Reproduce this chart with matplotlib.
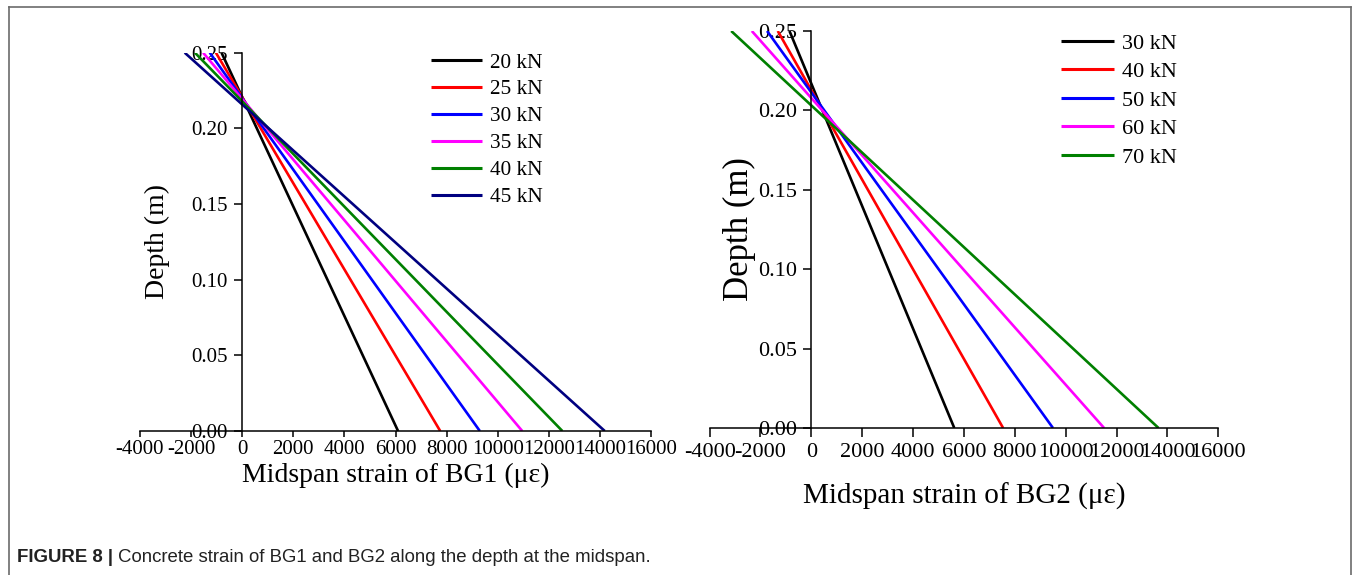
import matplotlib
matplotlib.use("Agg")
import matplotlib.pyplot as plt
from matplotlib.lines import Line2D

plt.rcParams["font.family"] = ["Liberation Serif", "DejaVu Serif"]

# Depth positions (m): bottom and top fibre of the section
depth = [0.0, 0.25]

# BG1 midspan strain (με) at depth 0 and 0.25 m
bg1_loads = ["20 kN", "25 kN", "30 kN", "35 kN", "40 kN", "45 kN"]
bg1_bottom = [6100, 7750, 9300, 10960, 12530, 14190]
bg1_top = [-810, -1030, -1270, -1530, -1850, -2250]
bg1_colors = ["#000000", "#ff0000", "#0000ff", "#ff00ff", "#008000", "#000080"]

# BG2 midspan strain (με) at depth 0 and 0.25 m
bg2_loads = ["30 kN", "40 kN", "50 kN", "60 kN", "70 kN"]
bg2_bottom = [5620, 7540, 9500, 11510, 13650]
bg2_top = [-860, -1320, -1740, -2340, -3150]
bg2_colors = ["#000000", "#ff0000", "#0000ff", "#ff00ff", "#008000"]

x_ticks = [-4000, -2000, 0, 2000, 4000, 6000, 8000, 10000, 12000, 14000, 16000]
y_ticks = [0.00, 0.05, 0.10, 0.15, 0.20, 0.25]

W, H = 1356, 575
fig = plt.figure(figsize=(W / 100, H / 100), dpi=100)


def px_rect(x0, x1, ytop, ybot):
    return [x0 / W, 1 - ybot / H, (x1 - x0) / W, (ybot - ytop) / H]


def panel(rect, loads, bottom, top, colors, xlabel, tick_fs, xlab_fs, ylab_fs,
          xlab_y, ylab_x, leg_fs, leg_anchor, leg_spacing, xtick_len, xtick_pad):
    ax = fig.add_axes(rect)
    for lab, b, t, c in zip(loads, bottom, top, colors):
        ax.plot([b, t], depth, color=c, lw=1.9, label=lab, solid_capstyle="butt")
    ax.set_xlim(-4000, 16000)
    ax.set_ylim(0, 0.25)
    ax.spines["top"].set_visible(False)
    ax.spines["right"].set_visible(False)
    ax.spines["left"].set_position(("data", 0))
    for s in ("left", "bottom"):
        ax.spines[s].set_linewidth(1.1)
    ax.set_xticks(x_ticks)
    ax.set_xticklabels([str(v) for v in x_ticks])
    ax.set_yticks(y_ticks)
    ax.set_yticklabels([f"{v:.2f}" for v in y_ticks])
    ax.tick_params(direction="out", width=1.1, labelsize=tick_fs)
    ax.tick_params(axis="y", length=5.8, pad=4.5)
    ax.tick_params(axis="x", length=xtick_len, pad=xtick_pad)
    ax.set_xlabel(xlabel, fontsize=xlab_fs)
    ax.xaxis.set_label_coords(0.5, xlab_y)
    ax.set_ylabel("Depth (m)", fontsize=ylab_fs)
    ax.yaxis.set_label_coords(ylab_x, 0.5)
    ax.legend(loc="upper left", bbox_to_anchor=leg_anchor, frameon=False,
              fontsize=leg_fs, handlelength=2.4, handletextpad=0.35,
              labelspacing=leg_spacing, borderaxespad=0, borderpad=0)
    for ln in ax.get_legend().get_lines():
        ln.set_linewidth(2.2)
    return ax


panel(px_rect(140, 651, 52.7, 431), bg1_loads, bg1_bottom, bg1_top, bg1_colors,
      "Midspan strain of BG1 (\u03bc\u03b5)", 15, 20, 20, -0.084, 0.059,
      15.3, (0.57, 1.0), 0.33, 4.5, 2)

panel(px_rect(709.6, 1218.3, 31, 428), bg2_loads, bg2_bottom, bg2_top, bg2_colors,
      "Midspan strain of BG2 (\u03bc\u03b5)", 16, 21, 25, -0.138, 0.092,
      16, (0.69, 0.995), 0.36, 6.5, 4.5)

# Outer frame of the figure panel
fc = "#6b6b6b"
fig.add_artist(Line2D([8.5 / W, 8.5 / W], [0, 1 - 7 / H], transform=fig.transFigure, color=fc, lw=1.2))
fig.add_artist(Line2D([1350.5 / W, 1350.5 / W], [0, 1 - 7 / H], transform=fig.transFigure, color=fc, lw=1.2))
fig.add_artist(Line2D([8.5 / W, 1350.5 / W], [1 - 7 / H, 1 - 7 / H], transform=fig.transFigure, color=fc, lw=1.2))

# Caption
cap_y = 1 - 557 / H
t1 = fig.text(17 / W, cap_y, "FIGURE 8 | ", fontsize=13.4, fontweight="bold",
              family=["Liberation Sans", "DejaVu Sans"], color="#222222", va="center")
fig.canvas.draw()
bb = t1.get_window_extent()
fig.text(bb.x1 / W, cap_y, "Concrete strain of BG1 and BG2 along the depth at the midspan.",
         fontsize=13.4, family=["Liberation Sans", "DejaVu Sans"], color="#222222", va="center")

fig.savefig("out.png", dpi=100)
